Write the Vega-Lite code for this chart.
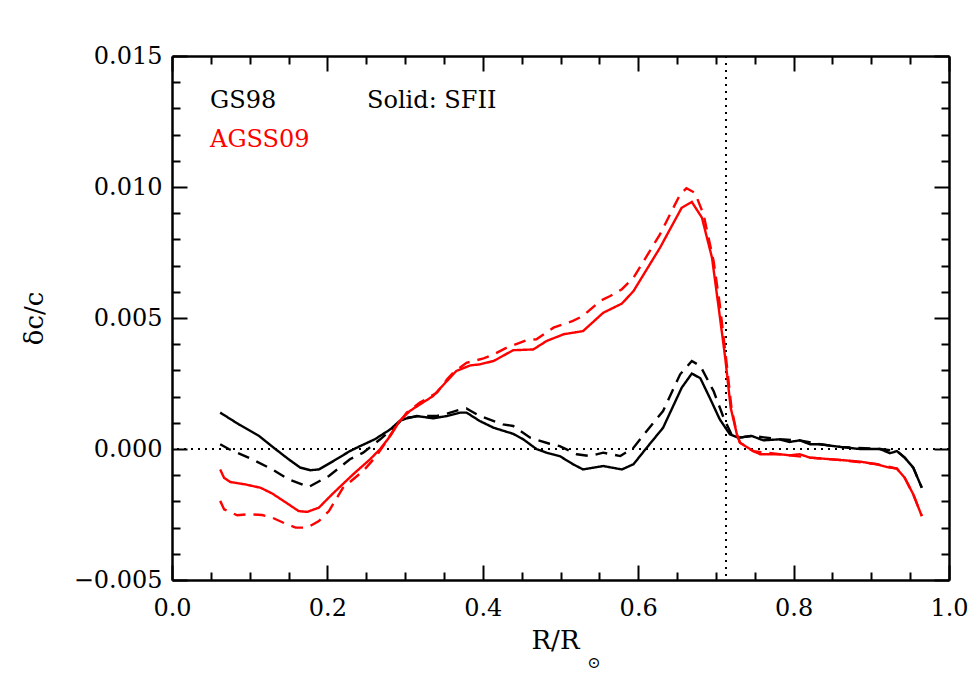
{
  "$schema": "https://vega.github.io/schema/vega-lite/v6.json",
  "width": 777,
  "height": 524,
  "autosize": {"type": "none"},
  "padding": {"left": 172, "top": 56, "right": 30, "bottom": 95},
  "background": "white",
  "config": {
    "view": {"stroke": null},
    "font": "DejaVu Serif",
    "axis": {
      "grid": false,
      "domainColor": "black",
      "domainWidth": 2.5,
      "tickColor": "black",
      "tickWidth": 2,
      "labelFont": "DejaVu Serif",
      "labelFontSize": 24,
      "labelColor": "black",
      "titleFont": "DejaVu Serif",
      "titleFontSize": 26,
      "titleFontWeight": "normal",
      "titleColor": "black"
    }
  },
  "datasets": {
    "profiles": [
      {"r":0.062,"d":0.00139,"m":"GS98","s":"SFII"},{"r":0.086,"d":0.00094,"m":"GS98","s":"SFII"},{"r":0.112,"d":0.0005,"m":"GS98","s":"SFII"},{"r":0.133,"d":0.0,"m":"GS98","s":"SFII"},{"r":0.150,"d":-0.00039,"m":"GS98","s":"SFII"},{"r":0.165,"d":-0.00071,"m":"GS98","s":"SFII"},{"r":0.178,"d":-0.00081,"m":"GS98","s":"SFII"},{"r":0.189,"d":-0.00078,"m":"GS98","s":"SFII"},{"r":0.206,"d":-0.00049,"m":"GS98","s":"SFII"},{"r":0.229,"d":-0.00008,"m":"GS98","s":"SFII"},{"r":0.242,"d":0.00011,"m":"GS98","s":"SFII"},{"r":0.261,"d":0.00037,"m":"GS98","s":"SFII"},{"r":0.281,"d":0.00075,"m":"GS98","s":"SFII"},{"r":0.293,"d":0.00107,"m":"GS98","s":"SFII"},{"r":0.302,"d":0.00117,"m":"GS98","s":"SFII"},{"r":0.315,"d":0.00126,"m":"GS98","s":"SFII"},{"r":0.336,"d":0.00117,"m":"GS98","s":"SFII"},{"r":0.354,"d":0.00126,"m":"GS98","s":"SFII"},{"r":0.371,"d":0.00139,"m":"GS98","s":"SFII"},{"r":0.379,"d":0.00139,"m":"GS98","s":"SFII"},{"r":0.396,"d":0.00107,"m":"GS98","s":"SFII"},{"r":0.414,"d":0.00081,"m":"GS98","s":"SFII"},{"r":0.439,"d":0.00058,"m":"GS98","s":"SFII"},{"r":0.452,"d":0.00037,"m":"GS98","s":"SFII"},{"r":0.469,"d":0.0,"m":"GS98","s":"SFII"},{"r":0.482,"d":-0.00014,"m":"GS98","s":"SFII"},{"r":0.499,"d":-0.00027,"m":"GS98","s":"SFII"},{"r":0.516,"d":-0.00058,"m":"GS98","s":"SFII"},{"r":0.529,"d":-0.00078,"m":"GS98","s":"SFII"},{"r":0.555,"d":-0.00065,"m":"GS98","s":"SFII"},{"r":0.579,"d":-0.00078,"m":"GS98","s":"SFII"},{"r":0.594,"d":-0.00058,"m":"GS98","s":"SFII"},{"r":0.611,"d":0.00005,"m":"GS98","s":"SFII"},{"r":0.632,"d":0.00081,"m":"GS98","s":"SFII"},{"r":0.656,"d":0.00234,"m":"GS98","s":"SFII"},{"r":0.669,"d":0.00288,"m":"GS98","s":"SFII"},{"r":0.680,"d":0.0027,"m":"GS98","s":"SFII"},{"r":0.692,"d":0.00196,"m":"GS98","s":"SFII"},{"r":0.705,"d":0.00113,"m":"GS98","s":"SFII"},{"r":0.718,"d":0.00056,"m":"GS98","s":"SFII"},{"r":0.729,"d":0.00043,"m":"GS98","s":"SFII"},{"r":0.746,"d":0.0005,"m":"GS98","s":"SFII"},{"r":0.761,"d":0.00033,"m":"GS98","s":"SFII"},{"r":0.782,"d":0.00037,"m":"GS98","s":"SFII"},{"r":0.795,"d":0.00027,"m":"GS98","s":"SFII"},{"r":0.808,"d":0.00033,"m":"GS98","s":"SFII"},{"r":0.821,"d":0.00018,"m":"GS98","s":"SFII"},{"r":0.834,"d":0.00018,"m":"GS98","s":"SFII"},{"r":0.860,"d":0.00008,"m":"GS98","s":"SFII"},{"r":0.885,"d":0.0,"m":"GS98","s":"SFII"},{"r":0.911,"d":0.0,"m":"GS98","s":"SFII"},{"r":0.924,"d":-0.00016,"m":"GS98","s":"SFII"},{"r":0.933,"d":-0.00008,"m":"GS98","s":"SFII"},{"r":0.943,"d":-0.00033,"m":"GS98","s":"SFII"},{"r":0.954,"d":-0.00071,"m":"GS98","s":"SFII"},{"r":0.965,"d":-0.00148,"m":"GS98","s":"SFII"},

      {"r":0.062,"d":0.00018,"m":"GS98","s":"dashed"},{"r":0.073,"d":0.0,"m":"GS98","s":"dashed"},{"r":0.103,"d":-0.00039,"m":"GS98","s":"dashed"},{"r":0.129,"d":-0.00078,"m":"GS98","s":"dashed"},{"r":0.150,"d":-0.00116,"m":"GS98","s":"dashed"},{"r":0.176,"d":-0.00145,"m":"GS98","s":"dashed"},{"r":0.202,"d":-0.00103,"m":"GS98","s":"dashed"},{"r":0.229,"d":-0.00039,"m":"GS98","s":"dashed"},{"r":0.246,"d":-0.00014,"m":"GS98","s":"dashed"},{"r":0.268,"d":0.00037,"m":"GS98","s":"dashed"},{"r":0.285,"d":0.00081,"m":"GS98","s":"dashed"},{"r":0.298,"d":0.00117,"m":"GS98","s":"dashed"},{"r":0.319,"d":0.00126,"m":"GS98","s":"dashed"},{"r":0.341,"d":0.00126,"m":"GS98","s":"dashed"},{"r":0.354,"d":0.00135,"m":"GS98","s":"dashed"},{"r":0.371,"d":0.00151,"m":"GS98","s":"dashed"},{"r":0.379,"d":0.00155,"m":"GS98","s":"dashed"},{"r":0.396,"d":0.00126,"m":"GS98","s":"dashed"},{"r":0.426,"d":0.00094,"m":"GS98","s":"dashed"},{"r":0.439,"d":0.00088,"m":"GS98","s":"dashed"},{"r":0.461,"d":0.00043,"m":"GS98","s":"dashed"},{"r":0.486,"d":0.0002,"m":"GS98","s":"dashed"},{"r":0.499,"d":0.00011,"m":"GS98","s":"dashed"},{"r":0.521,"d":-0.0002,"m":"GS98","s":"dashed"},{"r":0.538,"d":-0.00027,"m":"GS98","s":"dashed"},{"r":0.555,"d":-0.00014,"m":"GS98","s":"dashed"},{"r":0.577,"d":-0.00027,"m":"GS98","s":"dashed"},{"r":0.594,"d":0.00005,"m":"GS98","s":"dashed"},{"r":0.611,"d":0.00069,"m":"GS98","s":"dashed"},{"r":0.632,"d":0.00145,"m":"GS98","s":"dashed"},{"r":0.654,"d":0.00285,"m":"GS98","s":"dashed"},{"r":0.669,"d":0.00336,"m":"GS98","s":"dashed"},{"r":0.680,"d":0.00317,"m":"GS98","s":"dashed"},{"r":0.697,"d":0.00221,"m":"GS98","s":"dashed"},{"r":0.710,"d":0.00119,"m":"GS98","s":"dashed"},{"r":0.720,"d":0.00056,"m":"GS98","s":"dashed"},{"r":0.729,"d":0.00043,"m":"GS98","s":"dashed"},{"r":0.746,"d":0.0005,"m":"GS98","s":"dashed"},{"r":0.782,"d":0.00037,"m":"GS98","s":"dashed"},{"r":0.808,"d":0.00033,"m":"GS98","s":"dashed"},{"r":0.834,"d":0.00018,"m":"GS98","s":"dashed"},{"r":0.860,"d":0.00008,"m":"GS98","s":"dashed"},{"r":0.911,"d":0.0,"m":"GS98","s":"dashed"},{"r":0.933,"d":-0.00008,"m":"GS98","s":"dashed"},{"r":0.943,"d":-0.00033,"m":"GS98","s":"dashed"},{"r":0.954,"d":-0.00071,"m":"GS98","s":"dashed"},{"r":0.965,"d":-0.00148,"m":"GS98","s":"dashed"},

      {"r":0.062,"d":-0.00078,"m":"AGSS09","s":"SFII"},{"r":0.067,"d":-0.0011,"m":"AGSS09","s":"SFII"},{"r":0.075,"d":-0.00126,"m":"AGSS09","s":"SFII"},{"r":0.094,"d":-0.00135,"m":"AGSS09","s":"SFII"},{"r":0.114,"d":-0.00148,"m":"AGSS09","s":"SFII"},{"r":0.129,"d":-0.0017,"m":"AGSS09","s":"SFII"},{"r":0.150,"d":-0.00211,"m":"AGSS09","s":"SFII"},{"r":0.163,"d":-0.00237,"m":"AGSS09","s":"SFII"},{"r":0.174,"d":-0.0024,"m":"AGSS09","s":"SFII"},{"r":0.189,"d":-0.00224,"m":"AGSS09","s":"SFII"},{"r":0.206,"d":-0.00173,"m":"AGSS09","s":"SFII"},{"r":0.233,"d":-0.00097,"m":"AGSS09","s":"SFII"},{"r":0.255,"d":-0.00039,"m":"AGSS09","s":"SFII"},{"r":0.268,"d":0.0,"m":"AGSS09","s":"SFII"},{"r":0.281,"d":0.0005,"m":"AGSS09","s":"SFII"},{"r":0.293,"d":0.00107,"m":"AGSS09","s":"SFII"},{"r":0.306,"d":0.00145,"m":"AGSS09","s":"SFII"},{"r":0.319,"d":0.0017,"m":"AGSS09","s":"SFII"},{"r":0.336,"d":0.00202,"m":"AGSS09","s":"SFII"},{"r":0.354,"d":0.0026,"m":"AGSS09","s":"SFII"},{"r":0.366,"d":0.00298,"m":"AGSS09","s":"SFII"},{"r":0.384,"d":0.00319,"m":"AGSS09","s":"SFII"},{"r":0.396,"d":0.00323,"m":"AGSS09","s":"SFII"},{"r":0.414,"d":0.00336,"m":"AGSS09","s":"SFII"},{"r":0.439,"d":0.00377,"m":"AGSS09","s":"SFII"},{"r":0.465,"d":0.0038,"m":"AGSS09","s":"SFII"},{"r":0.482,"d":0.00412,"m":"AGSS09","s":"SFII"},{"r":0.504,"d":0.00438,"m":"AGSS09","s":"SFII"},{"r":0.529,"d":0.0045,"m":"AGSS09","s":"SFII"},{"r":0.555,"d":0.0052,"m":"AGSS09","s":"SFII"},{"r":0.579,"d":0.00555,"m":"AGSS09","s":"SFII"},{"r":0.594,"d":0.00603,"m":"AGSS09","s":"SFII"},{"r":0.628,"d":0.00768,"m":"AGSS09","s":"SFII"},{"r":0.656,"d":0.00921,"m":"AGSS09","s":"SFII"},{"r":0.669,"d":0.00943,"m":"AGSS09","s":"SFII"},{"r":0.682,"d":0.00883,"m":"AGSS09","s":"SFII"},{"r":0.695,"d":0.0073,"m":"AGSS09","s":"SFII"},{"r":0.703,"d":0.00552,"m":"AGSS09","s":"SFII"},{"r":0.712,"d":0.00348,"m":"AGSS09","s":"SFII"},{"r":0.719,"d":0.00158,"m":"AGSS09","s":"SFII"},{"r":0.727,"d":0.00056,"m":"AGSS09","s":"SFII"},{"r":0.731,"d":0.00024,"m":"AGSS09","s":"SFII"},{"r":0.748,"d":-0.00008,"m":"AGSS09","s":"SFII"},{"r":0.757,"d":-0.0002,"m":"AGSS09","s":"SFII"},{"r":0.782,"d":-0.0002,"m":"AGSS09","s":"SFII"},{"r":0.795,"d":-0.00024,"m":"AGSS09","s":"SFII"},{"r":0.808,"d":-0.0002,"m":"AGSS09","s":"SFII"},{"r":0.821,"d":-0.00033,"m":"AGSS09","s":"SFII"},{"r":0.860,"d":-0.00042,"m":"AGSS09","s":"SFII"},{"r":0.885,"d":-0.00048,"m":"AGSS09","s":"SFII"},{"r":0.907,"d":-0.00058,"m":"AGSS09","s":"SFII"},{"r":0.920,"d":-0.00069,"m":"AGSS09","s":"SFII"},{"r":0.933,"d":-0.00075,"m":"AGSS09","s":"SFII"},{"r":0.943,"d":-0.0011,"m":"AGSS09","s":"SFII"},{"r":0.954,"d":-0.00173,"m":"AGSS09","s":"SFII"},{"r":0.965,"d":-0.00256,"m":"AGSS09","s":"SFII"},

      {"r":0.062,"d":-0.00198,"m":"AGSS09","s":"dashed"},{"r":0.067,"d":-0.0023,"m":"AGSS09","s":"dashed"},{"r":0.084,"d":-0.00253,"m":"AGSS09","s":"dashed"},{"r":0.099,"d":-0.00249,"m":"AGSS09","s":"dashed"},{"r":0.116,"d":-0.00252,"m":"AGSS09","s":"dashed"},{"r":0.129,"d":-0.00262,"m":"AGSS09","s":"dashed"},{"r":0.146,"d":-0.00285,"m":"AGSS09","s":"dashed"},{"r":0.159,"d":-0.003,"m":"AGSS09","s":"dashed"},{"r":0.174,"d":-0.003,"m":"AGSS09","s":"dashed"},{"r":0.189,"d":-0.00275,"m":"AGSS09","s":"dashed"},{"r":0.202,"d":-0.00237,"m":"AGSS09","s":"dashed"},{"r":0.220,"d":-0.00148,"m":"AGSS09","s":"dashed"},{"r":0.246,"d":-0.00084,"m":"AGSS09","s":"dashed"},{"r":0.263,"d":-0.00027,"m":"AGSS09","s":"dashed"},{"r":0.276,"d":0.0003,"m":"AGSS09","s":"dashed"},{"r":0.287,"d":0.00081,"m":"AGSS09","s":"dashed"},{"r":0.302,"d":0.00139,"m":"AGSS09","s":"dashed"},{"r":0.319,"d":0.00177,"m":"AGSS09","s":"dashed"},{"r":0.341,"d":0.00215,"m":"AGSS09","s":"dashed"},{"r":0.354,"d":0.00266,"m":"AGSS09","s":"dashed"},{"r":0.362,"d":0.00291,"m":"AGSS09","s":"dashed"},{"r":0.379,"d":0.00329,"m":"AGSS09","s":"dashed"},{"r":0.401,"d":0.00346,"m":"AGSS09","s":"dashed"},{"r":0.414,"d":0.00361,"m":"AGSS09","s":"dashed"},{"r":0.431,"d":0.00387,"m":"AGSS09","s":"dashed"},{"r":0.456,"d":0.00415,"m":"AGSS09","s":"dashed"},{"r":0.469,"d":0.00419,"m":"AGSS09","s":"dashed"},{"r":0.491,"d":0.00463,"m":"AGSS09","s":"dashed"},{"r":0.516,"d":0.00489,"m":"AGSS09","s":"dashed"},{"r":0.529,"d":0.00508,"m":"AGSS09","s":"dashed"},{"r":0.551,"d":0.00565,"m":"AGSS09","s":"dashed"},{"r":0.564,"d":0.00584,"m":"AGSS09","s":"dashed"},{"r":0.579,"d":0.0061,"m":"AGSS09","s":"dashed"},{"r":0.594,"d":0.00654,"m":"AGSS09","s":"dashed"},{"r":0.628,"d":0.00819,"m":"AGSS09","s":"dashed"},{"r":0.654,"d":0.00972,"m":"AGSS09","s":"dashed"},{"r":0.662,"d":0.00995,"m":"AGSS09","s":"dashed"},{"r":0.673,"d":0.00978,"m":"AGSS09","s":"dashed"},{"r":0.684,"d":0.00896,"m":"AGSS09","s":"dashed"},{"r":0.697,"d":0.00718,"m":"AGSS09","s":"dashed"},{"r":0.705,"d":0.00552,"m":"AGSS09","s":"dashed"},{"r":0.713,"d":0.00348,"m":"AGSS09","s":"dashed"},{"r":0.720,"d":0.00158,"m":"AGSS09","s":"dashed"},{"r":0.727,"d":0.00056,"m":"AGSS09","s":"dashed"},{"r":0.731,"d":0.00024,"m":"AGSS09","s":"dashed"},{"r":0.748,"d":-0.00008,"m":"AGSS09","s":"dashed"},{"r":0.782,"d":-0.0002,"m":"AGSS09","s":"dashed"},{"r":0.821,"d":-0.00033,"m":"AGSS09","s":"dashed"},{"r":0.860,"d":-0.00042,"m":"AGSS09","s":"dashed"},{"r":0.907,"d":-0.00058,"m":"AGSS09","s":"dashed"},{"r":0.933,"d":-0.00075,"m":"AGSS09","s":"dashed"},{"r":0.943,"d":-0.0011,"m":"AGSS09","s":"dashed"},{"r":0.954,"d":-0.00173,"m":"AGSS09","s":"dashed"},{"r":0.965,"d":-0.00256,"m":"AGSS09","s":"dashed"}
    ]
  },
  "resolve": {"axis": {"x": "independent", "y": "independent"}},
  "layer": [
    {
      "data": {"values": [{}]},
      "mark": {"type": "rule", "color": "black", "strokeWidth": 2, "strokeDash": [2, 5]},
      "encoding": {
        "y": {
          "datum": 0,
          "type": "quantitative",
          "scale": {"domain": [-0.005, 0.015], "nice": false, "zero": false},
          "axis": {
            "orient": "right", "title": null, "labels": false,
            "values": [-0.005,-0.004,-0.003,-0.002,-0.001,0,0.001,0.002,0.003,0.004,0.005,0.006,0.007,0.008,0.009,0.01,0.011,0.012,0.013,0.014,0.015],
            "tickSize": {"condition": {"test": "abs(datum.value*200-round(datum.value*200))<1e-6", "value": -15}, "value": -8}
          }
        }
      }
    },
    {
      "data": {"values": [{}]},
      "mark": {"type": "rule", "color": "black", "strokeWidth": 2, "strokeDash": [2, 5]},
      "encoding": {
        "x": {
          "datum": 0.713,
          "type": "quantitative",
          "scale": {"domain": [0, 1], "nice": false, "zero": false},
          "axis": {
            "orient": "top", "title": null, "labels": false,
            "values": [0,0.05,0.1,0.15,0.2,0.25,0.3,0.35,0.4,0.45,0.5,0.55,0.6,0.65,0.7,0.75,0.8,0.85,0.9,0.95,1],
            "tickSize": {"condition": {"test": "abs(datum.value*5-round(datum.value*5))<1e-6", "value": -15}, "value": -8}
          }
        }
      }
    },
    {
      "data": {"name": "profiles"},
      "mark": {"type": "line", "strokeWidth": 2.4},
      "encoding": {
        "x": {
          "field": "r",
          "type": "quantitative",
          "scale": {"domain": [0, 1], "nice": false, "zero": false},
          "axis": {
            "orient": "bottom",
            "title": "R/R",
            "titlePadding": 0,
            "titleX": 383,
            "values": [0,0.05,0.1,0.15,0.2,0.25,0.3,0.35,0.4,0.45,0.5,0.55,0.6,0.65,0.7,0.75,0.8,0.85,0.9,0.95,1],
            "labelExpr": "abs(datum.value*5-round(datum.value*5))<1e-6 ? format(datum.value, '.1f') : ''",
            "labelFlush": false,
            "labelOverlap": false,
            "labelPadding": 31,
            "tickSize": {"condition": {"test": "abs(datum.value*5-round(datum.value*5))<1e-6", "value": -15}, "value": -8}
          }
        },
        "y": {
          "field": "d",
          "type": "quantitative",
          "scale": {"domain": [-0.005, 0.015], "nice": false, "zero": false},
          "axis": {
            "orient": "left",
            "title": "\u03b4c/c",
            "titlePadding": 26,
            "values": [-0.005,-0.004,-0.003,-0.002,-0.001,0,0.001,0.002,0.003,0.004,0.005,0.006,0.007,0.008,0.009,0.01,0.011,0.012,0.013,0.014,0.015],
            "labelExpr": "abs(datum.value*200-round(datum.value*200))<1e-6 ? format(datum.value, '.3f') : ''",
            "labelOverlap": false,
            "labelPadding": 25,
            "tickSize": {"condition": {"test": "abs(datum.value*200-round(datum.value*200))<1e-6", "value": -15}, "value": -8}
          }
        },
        "color": {"field": "m", "type": "nominal", "scale": {"domain": ["GS98", "AGSS09"], "range": ["black", "red"]}, "legend": null},
        "strokeDash": {"field": "s", "type": "nominal", "scale": {"domain": ["SFII", "dashed"], "range": [[1, 0], [12, 8]]}, "legend": null},
        "detail": {"field": "m"}
      }
    },
    {
      "data": {"values": [{}]},
      "mark": {"type": "text", "text": "\u2299", "align": "center", "baseline": "middle", "font": "DejaVu Serif", "fontSize": 16, "color": "black", "clip": false},
      "encoding": {
        "x": {"datum": 0.543, "type": "quantitative", "axis": null},
        "y": {"datum": -0.00815, "type": "quantitative", "axis": null}
      }
    },
    {
      "data": {"values": [{}]},
      "mark": {"type": "text", "text": "GS98", "align": "left", "baseline": "middle", "font": "DejaVu Serif", "fontSize": 24, "color": "black"},
      "encoding": {
        "x": {"datum": 0.049, "type": "quantitative", "axis": null},
        "y": {"datum": 0.0133, "type": "quantitative", "axis": null}
      }
    },
    {
      "data": {"values": [{}]},
      "mark": {"type": "text", "text": "Solid: SFII", "align": "left", "baseline": "middle", "font": "DejaVu Serif", "fontSize": 24, "color": "black"},
      "encoding": {
        "x": {"datum": 0.251, "type": "quantitative", "axis": null},
        "y": {"datum": 0.0133, "type": "quantitative", "axis": null}
      }
    },
    {
      "data": {"values": [{}]},
      "mark": {"type": "text", "text": "AGSS09", "align": "left", "baseline": "middle", "font": "DejaVu Serif", "fontSize": 24, "color": "red"},
      "encoding": {
        "x": {"datum": 0.049, "type": "quantitative", "axis": null},
        "y": {"datum": 0.0118, "type": "quantitative", "axis": null}
      }
    }
  ]
}
